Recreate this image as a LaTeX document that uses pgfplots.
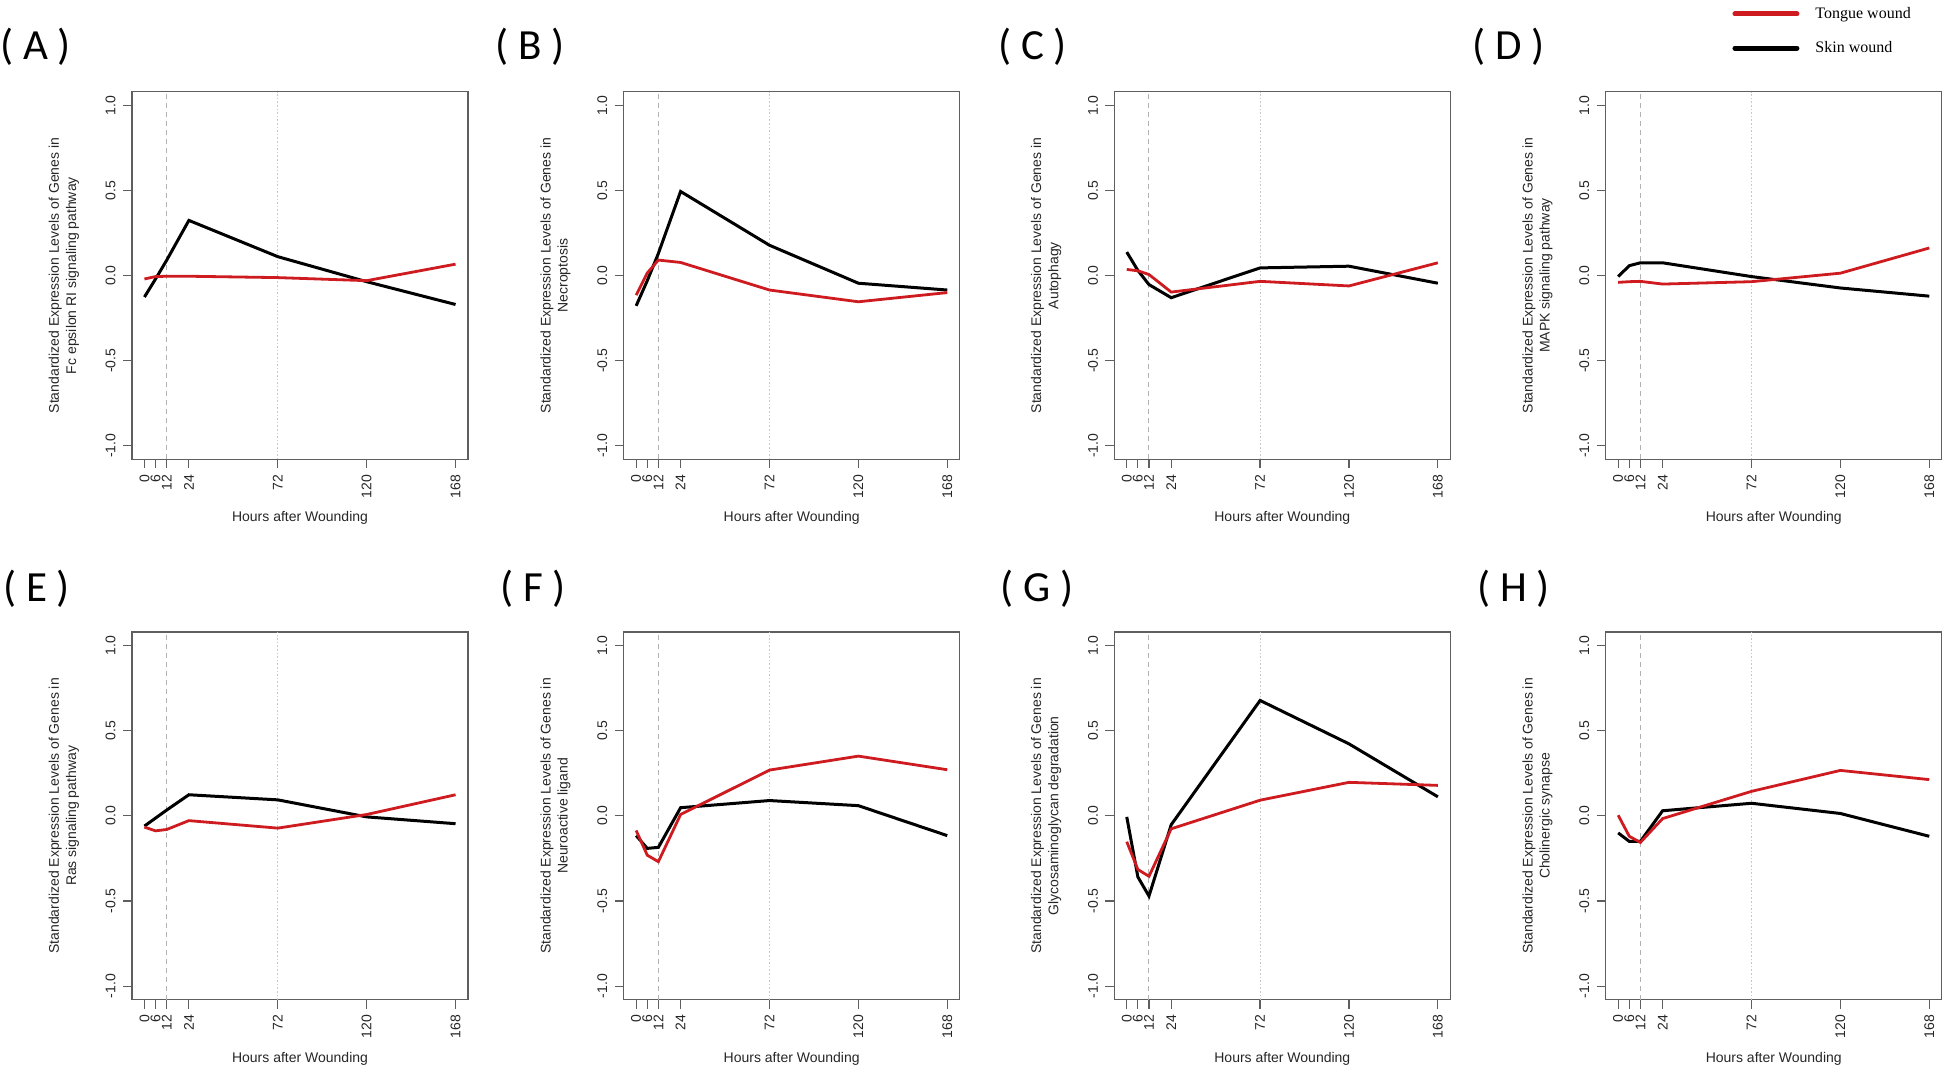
\documentclass[border=0pt]{standalone}
\usepackage{pgfplots}
\pgfplotsset{compat=1.18}
\usepackage{fontspec}
\setmainfont{Liberation Sans}
\newfontfamily\seriffont{Liberation Serif}
\newfontfamily\calfont{Carlito}
\definecolor{tred}{RGB}{205,27,32}
\definecolor{axgray}{RGB}{95,95,95}

\pgfplotsset{
  panel/.style={
    scale only axis, width=168pt, height=183.85pt,
    xmin=-6.72, xmax=174.72, ymin=-1.08, ymax=1.08,
    axis line style={draw=axgray, line width=0.6pt},
    tick pos=left, tick align=outside,
    major tick length=4.5pt,
    every tick/.style={draw=axgray, line width=0.6pt},
    xtick={0,6,12,24,72,120,168},
    xticklabels={0,6,12,24,72,120,168},
    ytick={-1,-0.5,0,0.5,1},
    yticklabels={-1.0,-0.5,0.0,0.5,1.0},
    tick label style={font=\fontsize{7}{8}\selectfont, text=black!85},
    xticklabel style={rotate=90, anchor=east, inner sep=0pt},
    yticklabel style={rotate=90, anchor=south, inner sep=0pt},
    xticklabel shift=3pt, yticklabel shift=3.5pt,
    xlabel={Hours after Wounding},
    label style={font=\fontsize{7}{8.6}\selectfont, text=black!85},
    xlabel style={at={(axis description cs:0.5,-0.16)}, anchor=center},
    ylabel style={at={(axis description cs:-0.203,0.5)}, anchor=center, align=center},
  },
  toprow/.style={panel},
  botrow/.style={panel},
  skin/.style={black, line width=1.5pt},
  tongue/.style={tred, line width=1.4pt},
  ref12/.style={black!30, line width=0.5pt, dash pattern=on 2.5pt off 2pt},
  ref72/.style={black!22, line width=0.5pt, dash pattern=on 0.8pt off 1pt},
}

\begin{document}
\begin{tikzpicture}
\useasboundingbox (0pt,0pt) rectangle (973pt,-536pt);

% ---------- panel labels ----------
\foreach \lab/\xx/\yy in {A/0/-23.25, B/247.5/-23.25, C/499/-23.25, D/736/-23.25,
                          E/1.5/-294.35, F/250/-294.35, G/500/-294.35, H/738.5/-294.35}{
  \node[anchor=west, inner sep=0pt, font=\calfont\fontsize{21.5}{25}\selectfont] at (\xx pt,\yy pt) {( \lab\ )};
}

% ---------- (A) ----------
\begin{axis}[toprow, at={(66pt,-45.85pt)}, anchor=north west,
  ylabel={Standardized Expression Levels of Genes in\\Fc epsilon RI signaling pathway}]
\addplot[ref12] coordinates {(12,-1.08) (12,1.08)};
\addplot[ref72] coordinates {(72,-1.08) (72,1.08)};
\addplot[skin] coordinates {(0,-0.126) (6,-0.02) (12,0.09) (24,0.324) (72,0.111) (120,-0.036) (168,-0.17)};
\addplot[tongue] coordinates {(0,-0.02) (6,-0.006) (12,-0.004) (24,-0.004) (72,-0.012) (120,-0.03) (168,0.067)};
\end{axis}

% ---------- (B) ----------
\begin{axis}[toprow, at={(311.85pt,-45.85pt)}, anchor=north west,
  ylabel={Standardized Expression Levels of Genes in\\Necroptosis}]
\addplot[ref12] coordinates {(12,-1.08) (12,1.08)};
\addplot[ref72] coordinates {(72,-1.08) (72,1.08)};
\addplot[skin] coordinates {(0,-0.178) (6,-0.03) (12,0.13) (24,0.494) (72,0.178) (120,-0.045) (168,-0.085)};
\addplot[tongue] coordinates {(0,-0.115) (6,0.015) (12,0.091) (24,0.077) (72,-0.085) (120,-0.154) (168,-0.10)};
\end{axis}

% ---------- (C) ----------
\begin{axis}[toprow, at={(557.15pt,-45.85pt)}, anchor=north west,
  ylabel={Standardized Expression Levels of Genes in\\Autophagy}]
\addplot[ref12] coordinates {(12,-1.08) (12,1.08)};
\addplot[ref72] coordinates {(72,-1.08) (72,1.08)};
\addplot[skin] coordinates {(0,0.138) (6,0.03) (12,-0.053) (24,-0.13) (72,0.045) (120,0.055) (168,-0.045)};
\addplot[tongue] coordinates {(0,0.036) (6,0.028) (12,0.006) (24,-0.097) (72,-0.034) (120,-0.061) (168,0.075)};
\end{axis}

% ---------- (D) ----------
\begin{axis}[toprow, at={(802.85pt,-45.85pt)}, anchor=north west,
  ylabel={Standardized Expression Levels of Genes in\\MAPK signaling pathway},
  legend style={at={(axis description cs:0.376,1.165)}, anchor=west, draw=none, fill=none,
    inner sep=0pt, font=\seriffont\fontsize{8}{9.5}\selectfont, row sep=6pt,
    /tikz/every odd column/.style={column sep=6pt}},
  legend cell align=left,
  legend image code/.code={\draw[#1, line width=2.5pt, line cap=round] (0pt,0pt) -- (31pt,0pt);}]
\addlegendimage{tred}
\addlegendentry{Tongue wound}
\addlegendimage{black}
\addlegendentry{Skin wound}
\addplot[ref12, forget plot] coordinates {(12,-1.08) (12,1.08)};
\addplot[ref72, forget plot] coordinates {(72,-1.08) (72,1.08)};
\addplot[skin, forget plot] coordinates {(0,-0.006) (6,0.058) (12,0.075) (24,0.075) (72,-0.006) (120,-0.073) (168,-0.121)};
\addplot[tongue, forget plot] coordinates {(0,-0.04) (6,-0.036) (12,-0.034) (24,-0.05) (72,-0.036) (120,0.014) (168,0.162)};
\end{axis}

% ---------- (E) ----------
\begin{axis}[botrow, at={(66pt,-316pt)}, anchor=north west,
  ylabel={Standardized Expression Levels of Genes in\\Ras signaling pathway}]
\addplot[ref12] coordinates {(12,-1.08) (12,1.08)};
\addplot[ref72] coordinates {(72,-1.08) (72,1.08)};
\addplot[skin] coordinates {(0,-0.06) (6,-0.013) (12,0.034) (24,0.124) (72,0.094) (120,-0.006) (168,-0.046)};
\addplot[tongue] coordinates {(0,-0.066) (6,-0.088) (12,-0.08) (24,-0.028) (72,-0.072) (120,0.008) (168,0.124)};
\end{axis}

% ---------- (F) ----------
\begin{axis}[botrow, at={(311.85pt,-316pt)}, anchor=north west,
  ylabel={Standardized Expression Levels of Genes in\\Neuroactive ligand}]
\addplot[ref12] coordinates {(12,-1.08) (12,1.08)};
\addplot[ref72] coordinates {(72,-1.08) (72,1.08)};
\addplot[skin] coordinates {(0,-0.116) (6,-0.191) (12,-0.185) (24,0.048) (72,0.09) (120,0.06) (168,-0.116)};
\addplot[tongue] coordinates {(0,-0.086) (6,-0.231) (12,-0.269) (24,0.008) (72,0.269) (120,0.351) (168,0.271)};
\end{axis}

% ---------- (G) ----------
\begin{axis}[botrow, at={(557.15pt,-316pt)}, anchor=north west,
  ylabel={Standardized Expression Levels of Genes in\\Glycosaminoglycan degradation}]
\addplot[ref12] coordinates {(12,-1.08) (12,1.08)};
\addplot[ref72] coordinates {(72,-1.08) (72,1.08)};
\addplot[skin] coordinates {(0,-0.006) (6,-0.359) (12,-0.471) (24,-0.052) (72,0.678) (120,0.423) (168,0.112)};
\addplot[tongue] coordinates {(0,-0.152) (6,-0.315) (12,-0.355) (24,-0.076) (72,0.092) (120,0.197) (168,0.179)};
\end{axis}

% ---------- (H) ----------
\begin{axis}[botrow, at={(802.85pt,-316pt)}, anchor=north west,
  ylabel={Standardized Expression Levels of Genes in\\Cholinergic synapse}]
\addplot[ref12] coordinates {(12,-1.08) (12,1.08)};
\addplot[ref72] coordinates {(72,-1.08) (72,1.08)};
\addplot[skin] coordinates {(0,-0.10) (6,-0.15) (12,-0.15) (24,0.03) (72,0.074) (120,0.014) (168,-0.12)};
\addplot[tongue] coordinates {(0,0.004) (6,-0.12) (12,-0.156) (24,-0.016) (72,0.144) (120,0.267) (168,0.213)};
\end{axis}
\end{tikzpicture}
\end{document}
